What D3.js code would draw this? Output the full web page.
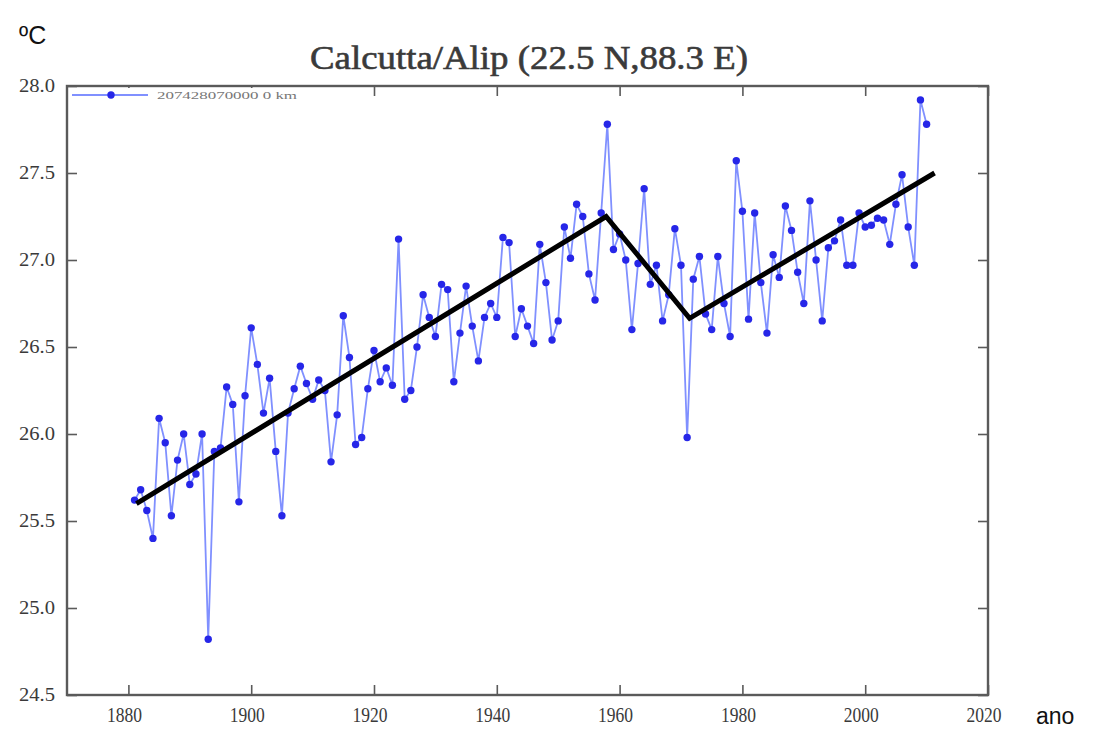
<!DOCTYPE html>
<html>
<head>
<meta charset="utf-8">
<script src="https://cdn.jsdelivr.net/npm/d3@7"></script>
<style>
  html, body { margin: 0; padding: 0; background: #fff; }
  svg { display: block; }
</style>
</head>
<body>
<div id="chart"></div>
<script>
// Dados (temperatura média anual, ºC)
const firstYear = 1881;
const temps = [
  25.62, 25.68, 25.56, 25.40, 26.09, 25.95, 25.53, 25.85, 26.00, 25.71, // 1881-1890
  25.77, 26.00, 24.82, 25.90, 25.92, 26.27, 26.17, 25.61, 26.22, 26.61, // 1891-1900
  26.40, 26.12, 26.32, 25.90, 25.53, 26.12, 26.26, 26.39, 26.29, 26.20, // 1901-1910
  26.31, 26.25, 25.84, 26.11, 26.68, 26.44, 25.94, 25.98, 26.26, 26.48, // 1911-1920
  26.30, 26.38, 26.28, 27.12, 26.20, 26.25, 26.50, 26.80, 26.67, 26.56, // 1921-1930
  26.86, 26.83, 26.30, 26.58, 26.85, 26.62, 26.42, 26.67, 26.75, 26.67, // 1931-1940
  27.13, 27.10, 26.56, 26.72, 26.62, 26.52, 27.09, 26.87, 26.54, 26.65, // 1941-1950
  27.19, 27.01, 27.32, 27.25, 26.92, 26.77, 27.27, 27.78, 27.06, 27.15, // 1951-1960
  27.00, 26.60, 26.98, 27.41, 26.86, 26.97, 26.65, 26.80, 27.18, 26.97, // 1961-1970
  25.98, 26.89, 27.02, 26.69, 26.60, 27.02, 26.75, 26.56, 27.57, 27.28, // 1971-1980
  26.66, 27.27, 26.87, 26.58, 27.03, 26.90, 27.31, 27.17, 26.93, 26.75, // 1981-1990
  27.34, 27.00, 26.65, 27.07, 27.11, 27.23, 26.97, 26.97, 27.27, 27.19, // 1991-2000
  27.20, 27.24, 27.23, 27.09, 27.32, 27.49, 27.19, 26.97, 27.92, 27.78  // 2001-2010
];
const years = temps.map((t, i) => firstYear + i);

// Linha de tendência desenhada à mão (quebras em ~1958 e ~1971)
const trendYears = [1881.3, 1957.8, 1971.4, 2011.3];
const trendTemps = [25.60, 27.25, 26.665, 27.50];

const xTicks = [1880, 1900, 1920, 1940, 1960, 1980, 2000, 2020];
const yTicks = [24.5, 25.0, 25.5, 26.0, 26.5, 27.0, 27.5, 28.0];

const titleText = 'Calcutta/Alip (22.5 N,88.3 E)';
const legendText = '207428070000 0 km';

// Dimensões
const width = 1099;
const height = 729;
const plot = { left: 67, right: 988, top: 86, bottom: 695 };

const svg = d3.select('#chart')
  .append('svg')
  .attr('width', width)
  .attr('height', height);

const x = d3.scaleLinear().domain([1870, 2020]).range([plot.left, plot.right]);
const y = d3.scaleLinear().domain([24.5, 28.0]).range([plot.bottom, plot.top]);

const axisColor = '#5a5a5a';
const serif = '"Liberation Serif", "Times New Roman", serif';

// Eixos inferior / superior / esquerdo / direito com ticks para dentro
const tickLen = 10;
svg.append('g')
  .attr('transform', `translate(0,${plot.bottom})`)
  .call(d3.axisBottom(x).tickValues(xTicks).tickSize(-tickLen).tickFormat(''))
  .call(g => g.select('.domain').remove());
svg.append('g')
  .attr('transform', `translate(0,${plot.top})`)
  .call(d3.axisTop(x).tickValues(xTicks).tickSize(-tickLen).tickFormat(''))
  .call(g => g.select('.domain').remove());
svg.append('g')
  .attr('transform', `translate(${plot.left},0)`)
  .call(d3.axisLeft(y).tickValues(yTicks).tickSize(-tickLen).tickFormat(''))
  .call(g => g.select('.domain').remove());
svg.append('g')
  .attr('transform', `translate(${plot.right},0)`)
  .call(d3.axisRight(y).tickValues(yTicks).tickSize(-tickLen).tickFormat(''))
  .call(g => g.select('.domain').remove());

svg.selectAll('.tick line')
  .attr('stroke', axisColor)
  .attr('stroke-width', 1.6);

// Rótulos dos ticks (fonte estreita, como no original)
svg.append('g')
  .selectAll('text')
  .data(xTicks)
  .enter()
  .append('text')
  .attr('x', d => x(d) - 4)
  .attr('y', 722)
  .attr('text-anchor', 'middle')
  .attr('font-family', serif)
  .attr('font-size', '21px')
  .attr('fill', '#3a3a3a')
  .attr('textLength', 35)
  .attr('lengthAdjust', 'spacingAndGlyphs')
  .text(d => d);

svg.append('g')
  .selectAll('text')
  .data(yTicks)
  .enter()
  .append('text')
  .attr('x', 55)
  .attr('y', d => y(d) + 6)
  .attr('text-anchor', 'end')
  .attr('font-family', serif)
  .attr('font-size', '19px')
  .attr('fill', '#3a3a3a')
  .attr('textLength', 36)
  .attr('lengthAdjust', 'spacingAndGlyphs')
  .text(d => d.toFixed(1));

// Série de dados
const line = d3.line()
  .x(d => x(d.year))
  .y(d => y(d.temp));

const series = years.map((yr, i) => ({ year: yr, temp: temps[i] }));

svg.append('path')
  .datum(series)
  .attr('fill', 'none')
  .attr('stroke', '#8090ff')
  .attr('stroke-width', 1.8)
  .attr('d', line);

svg.append('g')
  .selectAll('circle')
  .data(series)
  .enter()
  .append('circle')
  .attr('cx', d => x(d.year))
  .attr('cy', d => y(d.temp))
  .attr('r', 3.7)
  .attr('fill', '#2626e8');

// Tendência
const trend = trendYears.map((yr, i) => ({ year: yr, temp: trendTemps[i] }));
svg.append('path')
  .datum(trend)
  .attr('fill', 'none')
  .attr('stroke', '#000')
  .attr('stroke-width', 5)
  .attr('stroke-linejoin', 'miter')
  .attr('d', line);

// Legenda
const legend = svg.append('g');
legend.append('rect')
  .attr('x', plot.left + 2)
  .attr('y', plot.top + 2)
  .attr('width', 245)
  .attr('height', 15)
  .attr('fill', '#fff');
legend.append('line')
  .attr('x1', 72).attr('x2', 148)
  .attr('y1', 95).attr('y2', 95)
  .attr('stroke', '#8090ff')
  .attr('stroke-width', 2.2);
legend.append('circle')
  .attr('cx', 111).attr('cy', 95).attr('r', 3.7)
  .attr('fill', '#2626e8');
legend.append('text')
  .attr('x', 157).attr('y', 98.5)
  .attr('font-family', serif)
  .attr('font-size', '10px')
  .attr('fill', '#777')
  .attr('textLength', 140)
  .attr('lengthAdjust', 'spacingAndGlyphs')
  .text(legendText);

// Moldura
svg.append('rect')
  .attr('x', plot.left)
  .attr('y', plot.top)
  .attr('width', plot.right - plot.left)
  .attr('height', plot.bottom - plot.top)
  .attr('fill', 'none')
  .attr('stroke', axisColor)
  .attr('stroke-width', 2.4);

// Título e rótulos das unidades
svg.append('text')
  .attr('x', 529)
  .attr('y', 69)
  .attr('text-anchor', 'middle')
  .attr('font-family', serif)
  .attr('font-size', '33px')
  .attr('fill', '#3a3a3a')
  .attr('stroke', '#3a3a3a')
  .attr('stroke-width', 0.6)
  .attr('textLength', 438)
  .attr('lengthAdjust', 'spacingAndGlyphs')
  .text(titleText);

svg.append('text')
  .attr('x', 19)
  .attr('y', 44)
  .attr('font-family', '"Liberation Sans", Arial, sans-serif')
  .attr('font-size', '25px')
  .attr('fill', '#111')
  .text('ºC');

svg.append('text')
  .attr('x', 1036)
  .attr('y', 724)
  .attr('font-family', '"Liberation Sans", Arial, sans-serif')
  .attr('font-size', '23px')
  .attr('fill', '#111')
  .text('ano');
</script>
</body>
</html>
